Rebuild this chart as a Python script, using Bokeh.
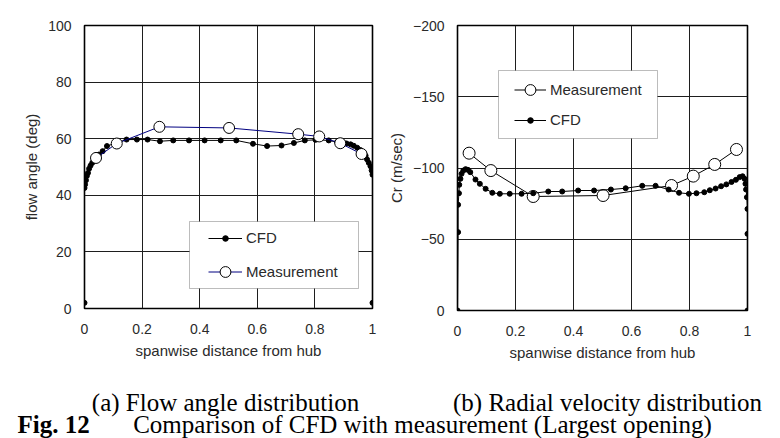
from bokeh.plotting import figure
from bokeh.models import Range1d, FixedTicker, Legend, LegendItem, BoxAnnotation, Label
from bokeh.layouts import column, row
from bokeh.embed import file_html
from bokeh.resources import INLINE

# ---------------- data ----------------
x_ticks = [0, 0.2, 0.4, 0.6, 0.8, 1]
x_tick_labels = ["0", "0.2", "0.4", "0.6", "0.8", "1"]

# (a) flow angle
a_y_ticks = [0, 20, 40, 60, 80, 100]
a_y_tick_labels = ["0", "20", "40", "60", "80", "100"]
a_cfd_x = [0, 0, 0.002, 0.005, 0.008, 0.012, 0.016, 0.021, 0.027, 0.035, 0.05, 0.063,
           0.078, 0.11, 0.146, 0.182, 0.219, 0.262, 0.308, 0.363, 0.417, 0.473, 0.527,
           0.585, 0.634, 0.684, 0.727, 0.765, 0.802, 0.848, 0.877, 0.9, 0.91, 0.924,
           0.935, 0.947, 0.958, 0.97, 0.976, 0.981, 0.987, 0.993, 0.997, 1.0, 1.0]
a_cfd_y = [2.0, 42.6, 43.8, 45.3, 46.8, 47.9, 49.4, 50.5, 51.5, 52.4, 54.4, 55.6,
           57.4, 58.5, 59.7, 59.7, 59.7, 59.1, 59.4, 59.4, 59.4, 59.4, 59.4,
           58.2, 57.4, 57.6, 58.5, 59.4, 59.6, 59.4, 58.8, 58.5, 58.3, 58.0,
           57.5, 56.8, 56.0, 55.0, 54.0, 52.7, 51.5, 50.3, 48.8, 47.3, 2.0]
a_meas_x = [0.04, 0.112, 0.26, 0.502, 0.742, 0.815, 0.888, 0.962]
a_meas_y = [53.2, 58.3, 64.2, 63.8, 61.6, 60.8, 58.4, 54.6]

# (b) radial velocity
b_y_ticks = [0, -50, -100, -150, -200]
b_y_tick_labels = ["0", "\u221250", "\u2212100", "\u2212150", "\u2212200"]
b_cfd_x = [0, 0.002, 0.002, 0.005, 0.006, 0.01, 0.014, 0.02, 0.028, 0.036, 0.044,
           0.062, 0.077, 0.097, 0.12, 0.146, 0.18, 0.221, 0.261, 0.313, 0.361, 0.416,
           0.471, 0.529, 0.58, 0.637, 0.683, 0.728, 0.764, 0.798, 0.824, 0.851, 0.87,
           0.89, 0.909, 0.927, 0.945, 0.96, 0.973, 0.983, 0.99, 0.993, 0.995, 0.998,
           1.0, 1.0, 1.0]
b_cfd_y = [0, -55.0, -74.2, -82.3, -88.2, -92.4, -95.9, -98.2, -99.2, -98.7, -97.1,
           -91.9, -88.9, -85.4, -82.6, -81.9, -81.9, -81.9, -82.3, -83.5, -83.5, -84.2,
           -84.2, -84.9, -85.8, -87.5, -87.5, -84.9, -82.6, -81.9, -82.3, -83.0, -84.4,
           -85.6, -87.2, -88.5, -90.2, -91.7, -93.6, -94.2, -92.4, -88.9, -84.9, -79.5,
           -71.3, -53.8, 0]
b_meas_x = [0.04, 0.115, 0.261, 0.502, 0.738, 0.813, 0.887, 0.962]
b_meas_y = [-110.4, -98.2, -80.0, -80.7, -87.7, -94.3, -102.5, -113.0]

SANS = "Liberation Sans"
SERIF = "Liberation Serif"
TXT = "#2a2a2a"


def style(p, yt, yl):
    p.xaxis.ticker = FixedTicker(ticks=x_ticks)
    p.xaxis.major_label_overrides = dict(zip(x_ticks, x_tick_labels))
    p.yaxis.ticker = FixedTicker(ticks=yt)
    p.yaxis.major_label_overrides = dict(zip(yt, yl))
    for ax in p.axis:
        ax.axis_line_color = None
        ax.major_tick_line_color = None
        ax.minor_tick_line_color = None
        ax.major_tick_out = 0
        ax.major_tick_in = 0
        ax.minor_tick_out = 0
        ax.minor_tick_in = 0
        ax.major_label_text_font = SANS
        ax.major_label_text_font_size = "14px"
        ax.major_label_text_color = TXT
        ax.axis_label_text_font = SANS
        ax.axis_label_text_font_size = "15px"
        ax.axis_label_text_font_style = "normal"
        ax.axis_label_text_color = TXT
        ax.axis_label_standoff = 5
    p.xaxis.major_label_standoff = 15
    p.yaxis.major_label_standoff = 13
    p.grid.grid_line_color = "#1e1e1e"
    p.grid.grid_line_width = 1
    p.outline_line_color = "black"
    p.outline_line_width = 1.6
    p.background_fill_color = "white"
    p.border_fill_color = "white"


def legend(items, loc, gw, gh):
    return Legend(items=items, location=loc, glyph_width=gw, glyph_height=gh,
                  label_height=gh, label_standoff=4, padding=0, spacing=0, margin=0,
                  border_line_color=None, background_fill_alpha=0,
                  label_text_font=SANS, label_text_font_size="15px",
                  label_text_color=TXT)


# ---------------- (a) ----------------
p1 = figure(frame_width=288, frame_height=283, min_border_left=84, min_border_right=12,
            min_border_top=16, min_border_bottom=71, x_range=Range1d(0, 1),
            y_range=Range1d(0, 100), toolbar_location=None, output_backend="svg",
            x_axis_label="spanwise distance from hub", y_axis_label="flow angle (deg)")
style(p1, a_y_ticks, a_y_tick_labels)
a_cl = p1.line(a_cfd_x, a_cfd_y, line_color="black", line_width=1)
a_cs = p1.scatter(a_cfd_x, a_cfd_y, size=5, marker="circle", fill_color="black", line_color="black")
a_ml = p1.line(a_meas_x, a_meas_y, line_color="#000080", line_width=1)
a_ms = p1.scatter(a_meas_x, a_meas_y, size=11, marker="circle", fill_color="white",
                  line_color="black", line_width=1)
p1.add_layout(BoxAnnotation(left=105, right=274, bottom=20, top=87, left_units="screen",
                            right_units="screen", bottom_units="screen", top_units="screen",
                            fill_color="white", fill_alpha=1, line_color="#222222", line_width=1))
p1.add_layout(legend([LegendItem(label="CFD", renderers=[a_cl, a_cs])], (124, 62), 34, 14))
p1.add_layout(legend([LegendItem(label="Measurement", renderers=[a_ml, a_ms])], (124, 23), 34, 27))

# ---------------- (b) ----------------
p2 = figure(frame_width=290, frame_height=285, min_border_left=67, min_border_right=39,
            min_border_top=25, min_border_bottom=60, x_range=Range1d(0, 1),
            y_range=Range1d(0, -200), toolbar_location=None, output_backend="svg",
            x_axis_label="spanwise distance from hub", y_axis_label="Cr (m/sec)")
style(p2, b_y_ticks, b_y_tick_labels)
b_ml = p2.line(b_meas_x, b_meas_y, line_color="black", line_width=1)
b_ms = p2.scatter(b_meas_x, b_meas_y, size=12, marker="circle", fill_color="white",
                  line_color="black", line_width=1)
b_cl = p2.line(b_cfd_x, b_cfd_y, line_color="black", line_width=1)
b_cs = p2.scatter(b_cfd_x, b_cfd_y, size=5, marker="circle", fill_color="black", line_color="black")
p2.add_layout(BoxAnnotation(left=41, right=200, bottom=172, top=240, left_units="screen",
                            right_units="screen", bottom_units="screen", top_units="screen",
                            fill_color="white", fill_alpha=1, line_color="#222222", line_width=1))
p2.add_layout(legend([LegendItem(label="Measurement", renderers=[b_ml, b_ms])], (57, 207), 32, 27))
p2.add_layout(legend([LegendItem(label="CFD", renderers=[b_cl, b_cs])], (57, 182), 32, 14))

# ---------------- captions ----------------
p3 = figure(frame_width=780, frame_height=68, min_border=0, x_range=Range1d(0, 1),
            y_range=Range1d(0, 1), toolbar_location=None, output_backend="svg")
p3.axis.visible = False
p3.grid.visible = False
p3.outline_line_color = None


def cap(x, y, text, align="center", style_="normal"):
    p3.add_layout(Label(x=x, y=y, x_units="screen", y_units="screen", text=text,
                        text_align=align, text_baseline="alphabetic", text_font=SERIF,
                        text_font_size="25px", text_font_style=style_, text_color="black"))


cap(225, 36, "(a) Flow angle distribution")
cap(607, 36, "(b) Radial velocity distribution")
cap(17, 14, "Fig. 12", align="left", style_="bold")
cap(422, 14, "Comparison of CFD with measurement (Largest opening)")

layout = column(row(p1, p2), p3)
open("out.html", "w").write(file_html(layout, INLINE))
